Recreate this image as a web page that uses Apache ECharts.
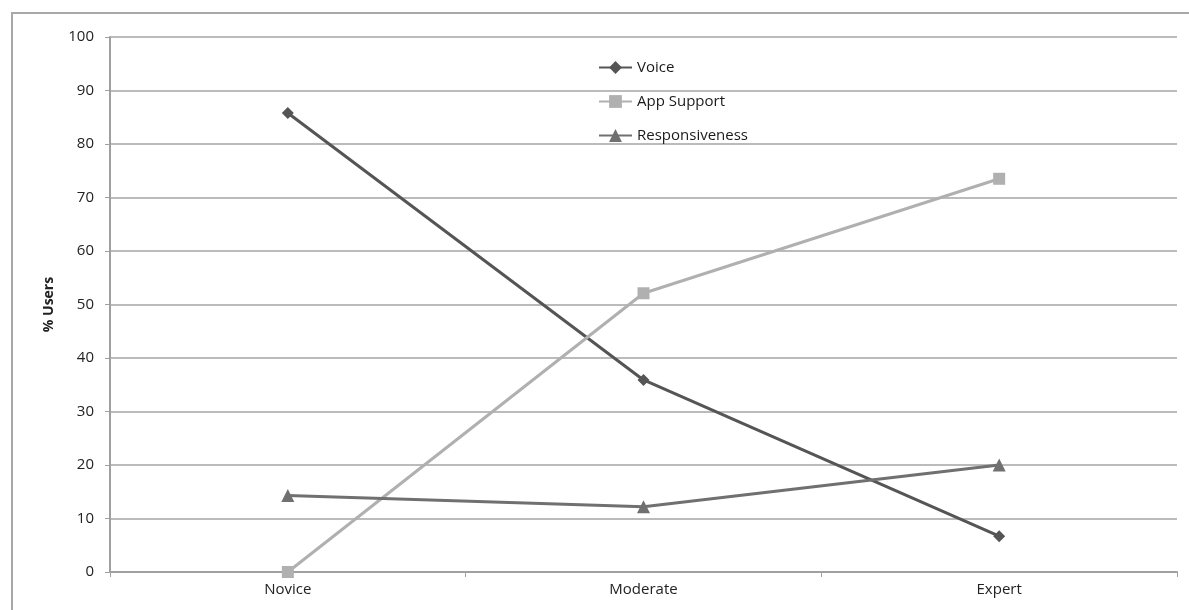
<!DOCTYPE html>
<html>
<head>
<meta charset="utf-8">
<script src="https://cdn.jsdelivr.net/npm/echarts@6/dist/echarts.min.js"></script>
<style>
html,body{margin:0;padding:0;background:#fff;}
#c{width:1189px;height:610px;}
</style>
</head>
<body>
<div id="c"></div>
<script>
const categories = ['Novice', 'Moderate', 'Expert'];
const voice = [85.8, 35.9, 6.7];
const appSupport = [0, 52.1, 73.5];
const responsiveness = [14.3, 12.2, 20.0];
const yTicks = [0, 10, 20, 30, 40, 50, 60, 70, 80, 90, 100];

const chart = echarts.init(document.getElementById('c'));
const font = '"Open Sans", "Liberation Sans", sans-serif';
chart.setOption({
  animation: false,
  textStyle: { fontFamily: font },
  graphic: [{
    type: 'rect',
    shape: { x: 12, y: 13, width: 1200, height: 620 },
    style: { fill: 'none', stroke: '#a8a8a8', lineWidth: 2 },
    silent: true
  }],
  grid: { left: 110, right: 12, top: 37, bottom: 38, containLabel: false },
  legend: {
    orient: 'vertical',
    left: 593,
    top: 55,
    itemGap: 19,
    itemWidth: 33,
    itemHeight: 16,
    textStyle: { fontSize: 15, color: '#1a1a1a', fontFamily: font },
    data: ['Voice', 'App Support', 'Responsiveness']
  },
  xAxis: {
    type: 'category',
    data: categories,
    boundaryGap: true,
    axisLine: { lineStyle: { color: '#a0a0a0', width: 2 } },
    axisTick: { show: true, length: 5, lineStyle: { color: '#a0a0a0', width: 1 } },
    axisLabel: { color: '#222', fontSize: 15, margin: 10, fontFamily: font },
    splitLine: { show: false }
  },
  yAxis: {
    type: 'value',
    min: 0, max: 100, interval: 10,
    name: '% Users',
    nameLocation: 'middle',
    nameGap: 54,
    nameRotate: 90,
    nameTextStyle: { fontSize: 14, fontWeight: 'bold', color: '#222', fontFamily: font },
    axisLine: { show: true, lineStyle: { color: '#a0a0a0', width: 2 } },
    axisTick: { show: true, length: 5, lineStyle: { color: '#a0a0a0' } },
    axisLabel: { color: '#222', fontSize: 15, margin: 16, fontFamily: font,
      formatter: v => yTicks.includes(v) ? String(v) : '' },
    splitLine: { show: true, lineStyle: { color: '#bbbbbb', width: 2 } }
  },
  series: [
    { name: 'Voice', type: 'line', data: voice, symbol: 'diamond', symbolSize: 12,
      lineStyle: { color: '#555555', width: 3 }, itemStyle: { color: '#555555' } },
    { name: 'App Support', type: 'line', data: appSupport, symbol: 'rect', symbolSize: 12,
      lineStyle: { color: '#b0b0b0', width: 3 }, itemStyle: { color: '#b0b0b0' } },
    { name: 'Responsiveness', type: 'line', data: responsiveness, symbol: 'triangle', symbolSize: 13,
      lineStyle: { color: '#707070', width: 3 }, itemStyle: { color: '#707070' } }
  ]
});
</script>
</body>
</html>
